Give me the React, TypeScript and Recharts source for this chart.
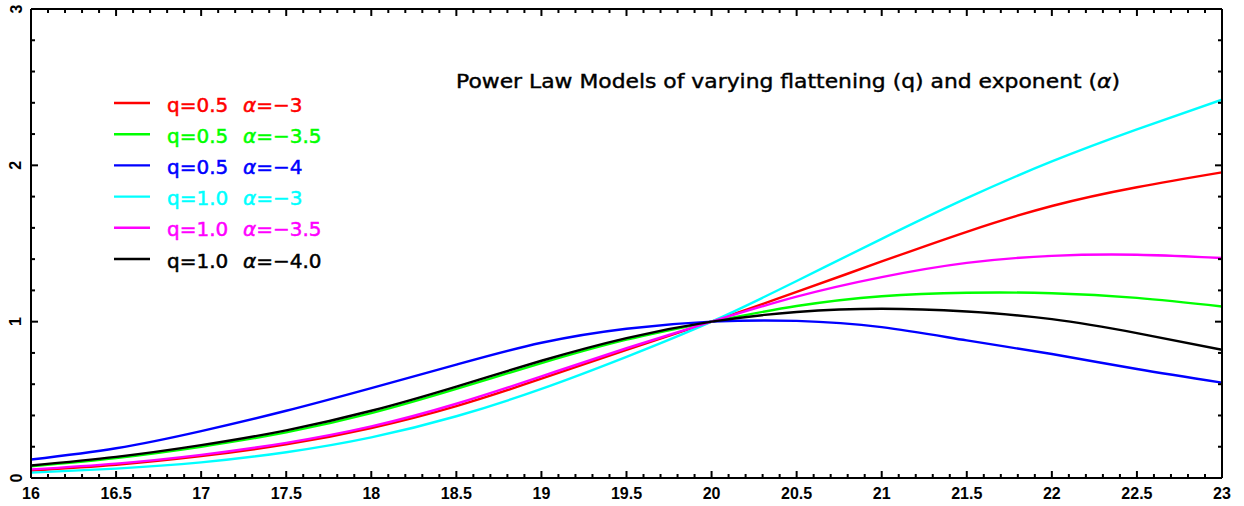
import React from 'react';
import { LineChart, Line, XAxis, YAxis } from 'recharts';

// x positions (sampled)
const xValues = [16, 16.5, 17, 17.5, 18, 18.5, 19, 19.5, 20, 20.5, 21, 21.5, 22, 22.5, 23];

// series values
const q05a30 = [0.048, 0.085, 0.14, 0.215, 0.32, 0.46, 0.635, 0.82, 1.0, 1.19, 1.385, 1.575, 1.74, 1.86, 1.955];
const q05a35 = [0.075, 0.128, 0.20, 0.292, 0.415, 0.57, 0.735, 0.885, 1.0, 1.10, 1.163, 1.185, 1.182, 1.152, 1.097];
const q05a40 = [0.118, 0.19, 0.30, 0.43, 0.575, 0.725, 0.865, 0.955, 1.0, 1.005, 0.965, 0.88, 0.793, 0.697, 0.61];
const q10a30 = [0.034, 0.06, 0.10, 0.165, 0.26, 0.395, 0.57, 0.775, 1.0, 1.26, 1.53, 1.79, 2.025, 2.23, 2.42];
const q10a35 = [0.055, 0.092, 0.148, 0.225, 0.33, 0.475, 0.65, 0.83, 1.0, 1.16, 1.285, 1.376, 1.421, 1.428, 1.407];
const q10a40 = [0.08, 0.135, 0.21, 0.305, 0.43, 0.585, 0.75, 0.895, 1.0, 1.062, 1.083, 1.065, 1.016, 0.927, 0.82];

// legend labels
const qLabels = ['q=0.5', 'q=0.5', 'q=0.5', 'q=1.0', 'q=1.0', 'q=1.0'];
const aLabels = ['α=−3', 'α=−3.5', 'α=−4', 'α=−3', 'α=−3.5', 'α=−4.0'];
const seriesKeys = ['q05a30', 'q05a35', 'q05a40', 'q10a30', 'q10a35', 'q10a40'];
const seriesValues = [q05a30, q05a35, q05a40, q10a30, q10a35, q10a40];
const seriesColors = ['#ff0000', '#00ff00', '#0000ff', '#00ffff', '#ff00ff', '#000000'];

const titleText = 'Power Law Models of varying flattening (q) and exponent (';

// axis ticks
const xTicks = Array.from({ length: 71 }, (_, i) => Math.round((16 + i * 0.1) * 10) / 10);
const yTicks = Array.from({ length: 16 }, (_, i) => Math.round(i * 0.2 * 10) / 10);

const data = xValues.map((x, i) => {
  const row: Record<string, number> = { x };
  seriesKeys.forEach((k, j) => {
    row[k] = seriesValues[j][i];
  });
  return row;
});

// plot frame (layout)
const W = 1244;
const H = 506;
const M = { top: 8, right: 21, bottom: 0, left: 1 };
const BOTTOM_AXIS_H = 28;
const LEFT_AXIS_W = 30;
const FRAME = {
  left: M.left + LEFT_AXIS_W,
  right: W - M.right - 1,
  top: M.top + 1,
  bottom: H - M.bottom - BOTTOM_AXIS_H,
};

const isMajorX = (v: number) => Math.abs(v * 2 - Math.round(v * 2)) < 1e-6;
const isMajorY = (v: number) => Math.abs(v - Math.round(v)) < 1e-6;

const tickFont = "'Liberation Sans', Arial, sans-serif";

const BottomTick = (props: any) => {
  const { x, payload } = props;
  const y = FRAME.bottom;
  const v = payload.value;
  const major = isMajorX(v);
  return (
    <g>
      <line x1={x} y1={y} x2={x} y2={y - (major ? 7 : 4)} stroke="#000" strokeWidth={2} />
      {major && (
        <text x={x} y={y + 15} textAnchor="middle" dominantBaseline="central" fontFamily={tickFont} fontWeight="bold" fontSize={16} fill="#000">
          {String(v)}
        </text>
      )}
    </g>
  );
};

const TopTick = (props: any) => {
  const { x, payload } = props;
  const y = FRAME.top;
  const major = isMajorX(payload.value);
  return <line x1={x} y1={y} x2={x} y2={y + (major ? 7 : 4)} stroke="#000" strokeWidth={2} />;
};

const LeftTick = (props: any) => {
  const { y, payload } = props;
  const x = FRAME.left;
  const v = payload.value;
  const major = isMajorY(v);
  return (
    <g>
      <line x1={x} y1={y} x2={x + (major ? 7 : 4)} y2={y} stroke="#000" strokeWidth={2} />
      {major && (
        <text
          x={x - 15}
          y={y}
          textAnchor="middle"
          dominantBaseline="central"
          fontFamily={tickFont}
          fontWeight="bold"
          fontSize={16}
          fill="#000"
          transform={`rotate(-90 ${x - 15} ${y})`}
        >
          {String(v)}
        </text>
      )}
    </g>
  );
};

const RightTick = (props: any) => {
  const { y, payload } = props;
  const x = FRAME.right;
  const major = isMajorY(payload.value);
  return <line x1={x} y1={y} x2={x - (major ? 7 : 4)} y2={y} stroke="#000" strokeWidth={2} />;
};

export default function App() {
  const legendFont = "'DejaVu Sans', sans-serif";
  return (
    <div style={{ position: 'absolute', left: 0, top: 0, width: W, height: H, background: '#fff' }}>
      <LineChart width={W} height={H} data={data} margin={M}>
        <XAxis
          xAxisId="b"
          dataKey="x"
          type="number"
          domain={[16, 23]}
          ticks={xTicks}
          interval={0}
          orientation="bottom"
          height={BOTTOM_AXIS_H}
          tickLine={false}
          tick={<BottomTick />}
          axisLine={{ stroke: '#000', strokeWidth: 2 }}
          allowDataOverflow
        />
        <XAxis
          xAxisId="t"
          dataKey="x"
          type="number"
          domain={[16, 23]}
          ticks={xTicks}
          interval={0}
          orientation="top"
          height={1}
          tickLine={false}
          tick={<TopTick />}
          axisLine={{ stroke: '#000', strokeWidth: 2 }}
          allowDataOverflow
        />
        <YAxis
          yAxisId="l"
          type="number"
          domain={[0, 3]}
          ticks={yTicks}
          interval={0}
          orientation="left"
          width={LEFT_AXIS_W}
          tickLine={false}
          tick={<LeftTick />}
          axisLine={{ stroke: '#000', strokeWidth: 2 }}
          allowDataOverflow
        />
        <YAxis
          yAxisId="r"
          type="number"
          domain={[0, 3]}
          ticks={yTicks}
          interval={0}
          orientation="right"
          width={1}
          tickLine={false}
          tick={<RightTick />}
          axisLine={{ stroke: '#000', strokeWidth: 2 }}
          allowDataOverflow
        />
        {seriesKeys.map((k, j) => (
          <Line
            key={k}
            xAxisId="b"
            yAxisId="l"
            dataKey={k}
            type="natural"
            stroke={seriesColors[j]}
            strokeWidth={2.4}
            dot={false}
            activeDot={false}
            isAnimationActive={false}
          />
        ))}
      </LineChart>
      <svg width={W} height={H} style={{ position: 'absolute', left: 0, top: 0, pointerEvents: 'none' }}>
        <text x={456} y={88} fontFamily={legendFont} fontSize={19} fill="#000" stroke="#000" strokeWidth={0.4} textLength={664} lengthAdjust="spacingAndGlyphs">
          {titleText}
          <tspan fontStyle="italic">α</tspan>)
        </text>
        {seriesKeys.map((k, j) => {
          const ly = 103 + j * 31.2;
          return (
            <g key={k}>
              <line x1={114} y1={ly} x2={150} y2={ly} stroke={seriesColors[j]} strokeWidth={2.4} />
              <text x={167} y={ly + 8.5} fontFamily={legendFont} fontSize={20} fill={seriesColors[j]} stroke={seriesColors[j]} strokeWidth={0.5}>
                {qLabels[j]}
              </text>
              <text x={243} y={ly + 8.5} fontFamily={legendFont} fontSize={20} fill={seriesColors[j]} stroke={seriesColors[j]} strokeWidth={0.5}>
                <tspan fontStyle="italic">{aLabels[j].slice(0, 1)}</tspan>
                {aLabels[j].slice(1)}
              </text>
            </g>
          );
        })}
      </svg>
    </div>
  );
}
